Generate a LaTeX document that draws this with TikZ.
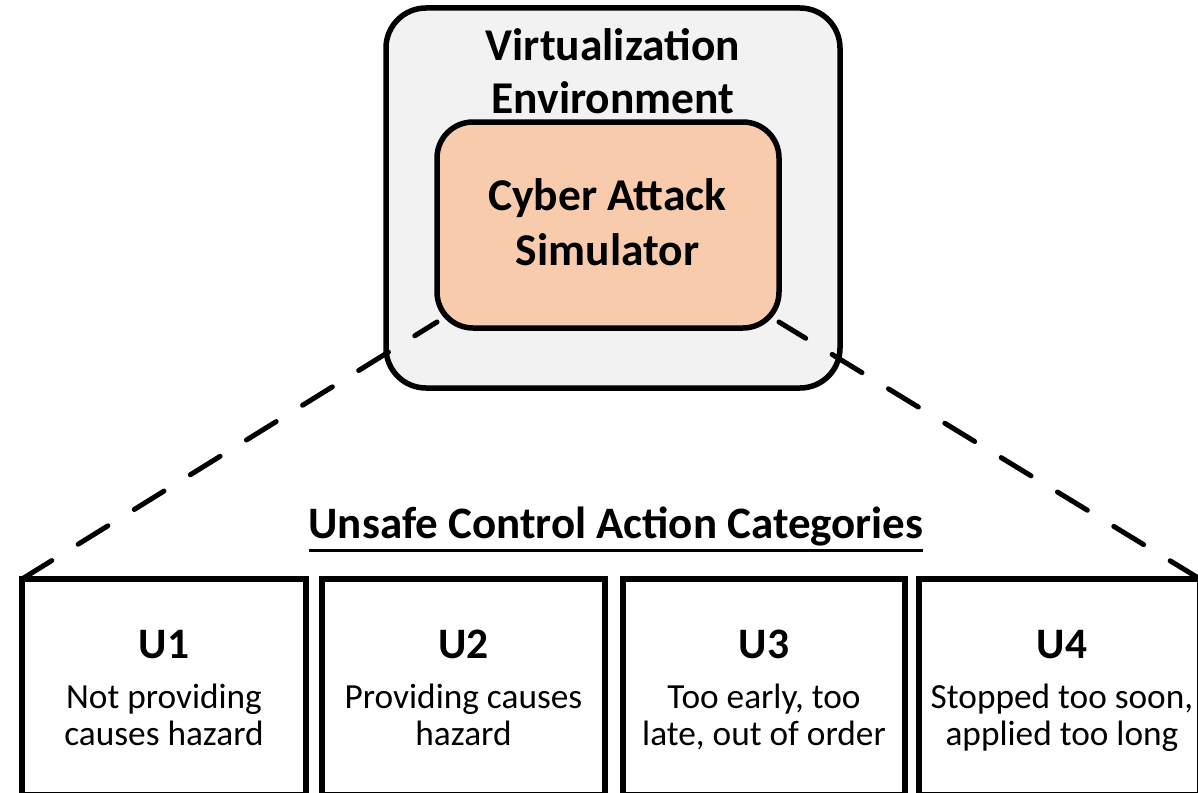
\documentclass[tikz,border=0pt]{standalone}
\usepackage{fontspec}
\setmainfont{Carlito}
\pgfdeclarelayer{back}
\pgfdeclarelayer{mid}
\pgfsetlayers{back,mid,main}
\definecolor{envfill}{HTML}{F2F2F2}
\definecolor{simfill}{HTML}{F8CBAD}
\begin{document}
\begin{tikzpicture}[x=1pt,y=-1pt,
  frame/.style={draw=black, line width=5.5pt, outer sep=0pt, inner sep=0pt},
  ucabox/.style={frame, fill=white, minimum height=216pt, anchor=north west},
  txt/.style={inner sep=0pt, outer sep=0pt, anchor=base},
  big/.style={font=\fontsize{45.5}{50}\selectfont\bfseries},
  ttl/.style={font=\fontsize{45}{50}\selectfont\bfseries},
  ulab/.style={font=\fontsize{43.5}{48}\selectfont\bfseries},
  body/.style={font=\fontsize{35.3}{40}\selectfont},
  dashline/.style={line width=5pt, dash pattern=on 35pt off 31pt, line cap=round}
]
\useasboundingbox (0,0) rectangle (1198,792);
\clip (0,0) rectangle (1198,792);

\begin{pgfonlayer}{back}
\node[frame, fill=envfill, rounded corners=40pt, minimum width=454pt, minimum height=380pt] (env) at (613,198) {};
\end{pgfonlayer}
\node[frame, fill=simfill, rounded corners=36pt, minimum width=342pt, minimum height=206pt] (sim) at (608,225) {};

\node[txt, big] (envt1) at (613,60) {Virtualization};
\node[txt, big] (envt2) at (613,113) {Environment};
\node[txt, big] (simt1) at (607.5,210) {Cyber Attack};
\node[txt, big] (simt2) at (607.5,265) {Simulator};

\node[txt, ttl] (title) at (616,538) {Unsafe Control Action Categories};
\draw[line width=3pt] ([yshift=-12pt]title.base west) -- ([yshift=-12pt]title.base east);

\node[ucabox, minimum width=284pt] (b1) at (22,579) {};
\node[ucabox, minimum width=283pt] (b2) at (322,579) {};
\node[ucabox, minimum width=282pt] (b3) at (623,579) {};
\node[ucabox, minimum width=281pt] (b4) at (919,579) {};

\node[txt, ulab] (u1) at (164,658) {U1};
\node[txt, body] (u1a) at (164,708) {Not providing};
\node[txt, body] (u1b) at (164,745) {causes hazard};

\node[txt, ulab] (u2) at (463.5,658) {U2};
\node[txt, body] (u2a) at (463.5,708) {Providing causes};
\node[txt, body] (u2b) at (463.5,745) {hazard};

\node[txt, ulab] (u3) at (764,658) {U3};
\node[txt, body] (u3a) at (764,708) {Too early, too};
\node[txt, body] (u3b) at (764,745) {late, out of order};

\node[txt, ulab] (u4) at (1062,658) {U4};
\node[txt, body] (u4a) at (1062,708) {Stopped too soon,};
\node[txt, body] (u4b) at (1062,745) {applied too long};

\begin{pgfonlayer}{mid}
\draw[dashline] (b1.north west) -- ([yshift=6pt]sim.south west);
\draw[dashline] (b4.north east) -- ([yshift=6pt]sim.south east);
\end{pgfonlayer}
\end{tikzpicture}
\end{document}
